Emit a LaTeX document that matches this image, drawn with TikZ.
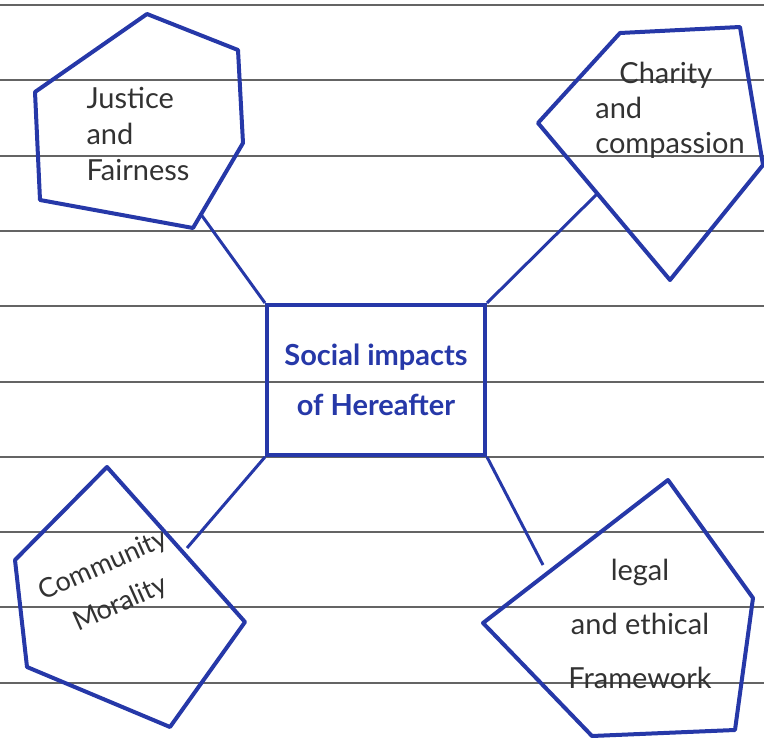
\documentclass[tikz,border=0pt]{standalone}
\usepackage{fontspec}
\setmainfont{Lato}
\usetikzlibrary{positioning}
\definecolor{inkblue}{RGB}{38,56,168}
\definecolor{pen}{RGB}{50,50,50}
\definecolor{rule}{RGB}{100,100,100}

\begin{document}
\begin{tikzpicture}[x=1pt, y=-1pt,
        shapeline/.style={draw=inkblue, line width=4pt, line join=round},
        link/.style={draw=inkblue, line width=3pt},
        note/.style={text=pen, font=\fontsize{29}{36}\selectfont, inner sep=0pt}]
        \useasboundingbox (0,0) rectangle (764,738);
        % lined paper
        \foreach \y in {5,80,156,231,306,382,457,532,607,683}
            \draw[rule, line width=1.5pt] (0,\y) -- (764,\y);
        % centre box
        \node[draw=inkblue, line width=4pt, rectangle, minimum width=218pt, minimum height=150pt,
              align=center, text=inkblue, font=\bfseries\fontsize{29}{50}\selectfont] (social) at (376,380)
              {Social impacts\\of Hereafter};
        % outer shapes
        \draw[shapeline] (35,92) -- (147,14) -- (238,50) -- (243,143) -- (193,228) -- (40,200) -- cycle;
        \draw[shapeline] (620,33) -- (740,27) -- (763,165) -- (670,280) -- (538,123) -- cycle;
        \draw[shapeline] (107,467) -- (245,622) -- (170,727) -- (27,667) -- (15,560) -- cycle;
        \draw[shapeline] (668,480) -- (753,598) -- (735,730) -- (592,736) -- (483,623) -- cycle;
        \node[note, align=left] (justice) at (138,134) {Justice\\and\\Fairness};
        \node[note, align=left, font=\fontsize{29}{35}\selectfont] (charity) at (670,110) {\hspace*{24pt}Charity\\and\\compassion};
        \node[note, align=center, rotate=24, font=\fontsize{27}{42}\selectfont] (community) at (112,585) {Community\\Morality};
        \node[note, align=center, font=\fontsize{29}{54}\selectfont] (legal) at (640,624) {legal\\and ethical\\Framework};
        % connector ends
        \coordinate (jend) at (200,213);
        \coordinate (cend) at (597,194);
        \coordinate (mend) at (187,548);
        \coordinate (lend) at (543,565);
        \draw[link] (social.north west) -- (jend);
        \draw[link] (social.north east) -- (cend);
        \draw[link] (social.south west) -- (mend);
        \draw[link] (social.south east) -- (lend);
    \end{tikzpicture}
\end{document}
